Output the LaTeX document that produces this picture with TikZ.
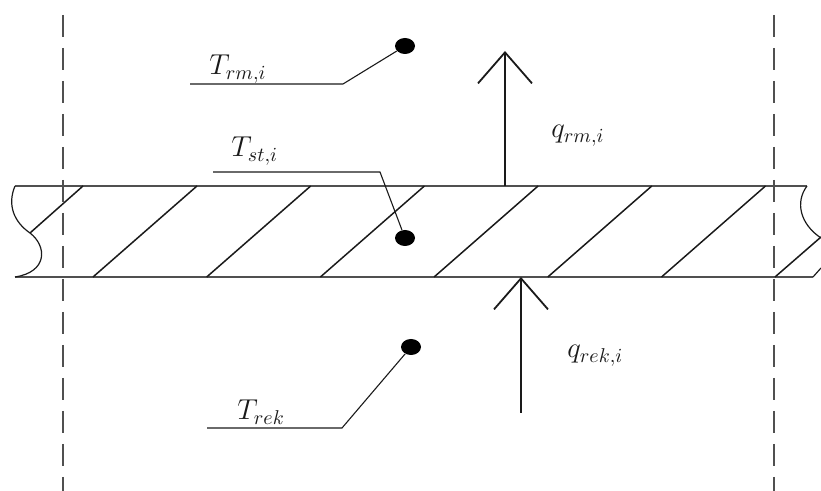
\documentclass[tikz,border=0pt]{standalone}
\usepackage{tikz}
\usetikzlibrary{shapes.geometric,arrows.meta}
\usepackage{amsmath}
\definecolor{ink}{HTML}{1A1A1A}
\definecolor{wallgray}{HTML}{505050}
\tikzset{
  wall/.style={line width=1.1pt,color=wallgray},
  hatch/.style={line width=0.75pt,color=ink},
  brk/.style={line width=0.6pt,color=ink},
  axis/.style={line width=1.1pt,color=wallgray,dash pattern=on 11pt off 5.5pt},
  dot/.style={ellipse,fill=black,draw=none,minimum width=10pt,
              minimum height=8pt,inner sep=0pt},
  lead/.style={line width=0.55pt,color=ink},
  flux/.style={-{Straight Barb[length=15.5pt,width=27pt,line width=0.9pt]},
               line width=0.9pt,color=ink},
  lbl/.style={font=\fontsize{14.5}{16}\selectfont,anchor=base west,
              inner sep=0pt,text=ink},
}

\begin{document}
\begin{tikzpicture}[x=0.5pt,y=-0.5pt]
  \useasboundingbox (0,0) rectangle (821,491);

  %% ── wall faces ────────────────────────────────────────────────────────────
  \coordinate (wTL) at (15,186);
  \coordinate (wTR) at (807,186);
  \coordinate (wBL) at (15,277);
  \coordinate (wBR) at (813,277);
  \draw[wall] (wTL) -- (wTR);
  \draw[wall] (wBL) -- (wBR);

  %% ── break lines ──────────────────────────────────────────────────────────
  \draw[brk] (wTL) .. controls (7,205) and (14,222) .. (30,233)
                   .. controls (47,246) and (48,272) .. (wBL);
  \draw[brk] (wTR) .. controls (795,202) and (800,224) .. (821,238);
  \draw[brk] (wBR) -- (821,268);

  %% ── hatching ─────────────────────────────────────────────────────────────
  \draw[hatch] (30,233) -- (83,186);
  \foreach \k in {0,...,5}
    \draw[hatch] ({93+113.7*\k},277) -- ++(104,-91);
  \draw[hatch] (775,277) -- (821,237);

  %% ── cell boundaries ──────────────────────────────────────────────────────
  \coordinate (aLt) at (63,15);
  \coordinate (aLb) at (63,495);
  \coordinate (aRt) at (774,15);
  \coordinate (aRb) at (774,495);
  \draw[axis] (aLt) -- (aLb);
  \draw[axis] (aRt) -- (aRb);

  %% ── temperature points ───────────────────────────────────────────────────
  \node[dot] (prm)  at (405,46)  {};
  \node[dot] (pst)  at (405,238) {};
  \node[dot] (prek) at (411,347) {};

  \node[lbl] (trm)  at (209,75)  {$T_{rm,i}$};
  \node[lbl] (tst)  at (231,157) {$T_{st,i}$};
  \node[lbl] (trek) at (237,420) {$T_{rek}$};

  \coordinate (lrm0)  at (190,84);  \coordinate (lrm1)  at (343,84);
  \coordinate (lst0)  at (213,172); \coordinate (lst1)  at (380,172);
  \coordinate (lrek0) at (207,428); \coordinate (lrek1) at (342,428);
  \draw[lead] (lrm0)  -- (lrm1)  -- (prm);
  \draw[lead] (lst0)  -- (lst1)  -- (pst);
  \draw[lead] (lrek0) -- (lrek1) -- (prek);

  %% ── heat fluxes ──────────────────────────────────────────────────────────
  \coordinate (qrm0)  at (505,186); \coordinate (qrm1)  at (505,51);
  \coordinate (qrek0) at (521,413); \coordinate (qrek1) at (521,277);
  \draw[flux] (qrm0)  -- (qrm1);
  \draw[flux] (qrek0) -- (qrek1);

  \node[lbl] (qrm)  at (551,138) {$q_{rm,i}$};
  \node[lbl] (qrek) at (567,358) {$q_{rek,i}$};

\end{tikzpicture}
\end{document}
